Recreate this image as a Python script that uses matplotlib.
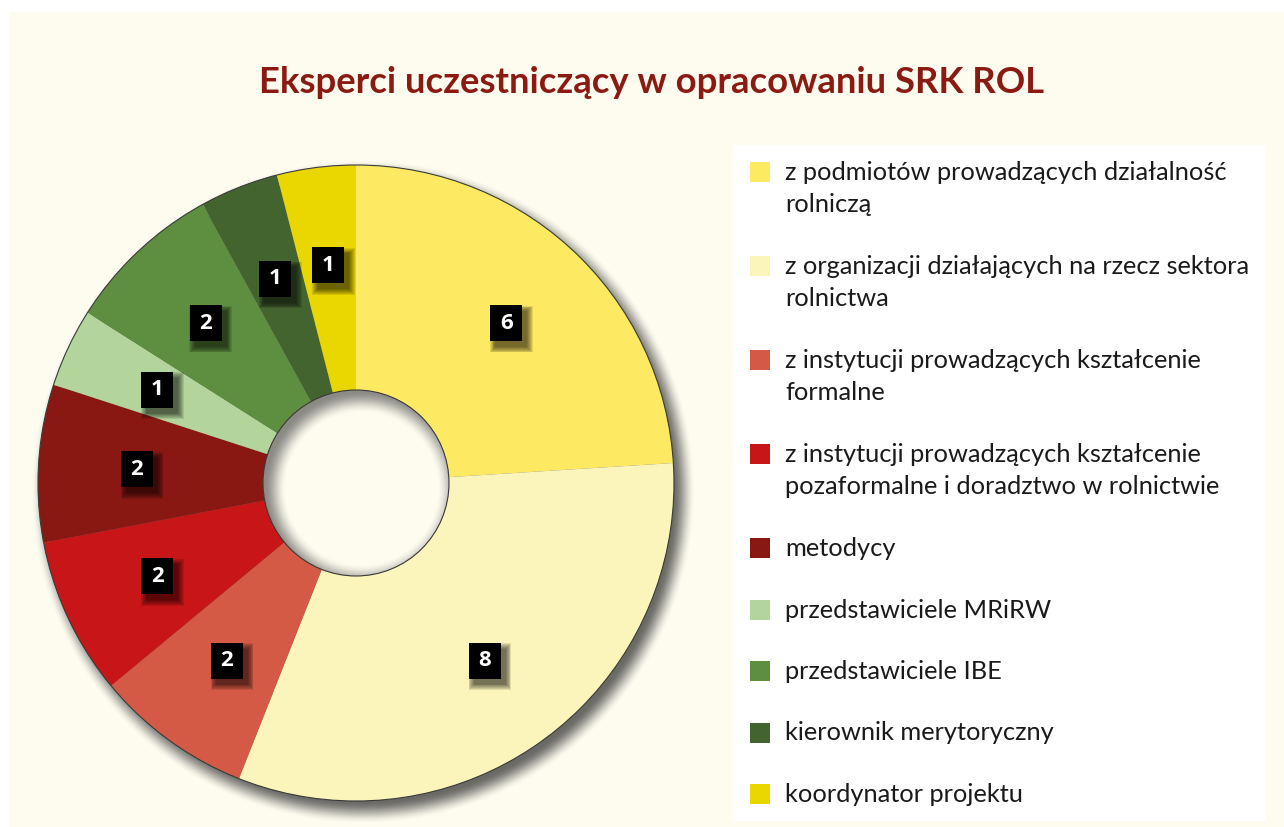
import numpy as np
import matplotlib.pyplot as plt
from matplotlib.patches import Rectangle, Circle

W, H = 1284, 827

title = 'Eksperci uczestniczący w opracowaniu SRK ROL'
labels = [
    'z podmiotów prowadzących działalność\nrolniczą',
    'z organizacji działających na rzecz sektora\nrolnictwa',
    'z instytucji prowadzących kształcenie\nformalne',
    'z instytucji prowadzących kształcenie\npozaformalne i doradztwo w rolnictwie',
    'metodycy',
    'przedstawiciele MRiRW',
    'przedstawiciele IBE',
    'kierownik merytoryczny',
    'koordynator projektu',
]
counts = [6, 8, 2, 2, 2, 1, 2, 1, 1]
colors = ['#FDE962', '#FCF5BB', '#D45A45', '#C81517', '#891812',
          '#B3D59B', '#5E8E3F', '#43632F', '#EAD600']

cream = '#FEFCEF'
font = 'Lato'

fig = plt.figure(figsize=(W / 100, H / 100), dpi=100)
fig.patch.set_facecolor('white')

# background layer in pixel coordinates
bg = fig.add_axes([0, 0, 1, 1])
bg.set_xlim(0, W)
bg.set_ylim(H, 0)
bg.axis('off')
bg.add_patch(Rectangle((9, 12), W - 9, H - 12, facecolor=cream, edgecolor='none'))
bg.text(652, 93, title, ha='center', va='baseline', fontsize=26.3, fontweight='bold',
        color='#8B1A13', family=font)

# legend
bg.add_patch(Rectangle((733, 145), 533, 676, facecolor='white', edgecolor='none'))
y = 172
for lab, col in zip(labels, colors):
    bg.add_patch(Rectangle((750, y - 10), 20, 20, facecolor=col, edgecolor='none'))
    for j, line in enumerate(lab.split('\n')):
        bg.text(785, y + 8 + j * 32.5, line, ha='left', va='baseline', fontsize=18.3,
                color='#1a1a1a', family=font)
    y += 61.5 + 32.5 * lab.count('\n')

# donut
cx, cy, R = 356, 483, 318
rh = 93 / R
ax = fig.add_axes([0, 0, 1, 1])
ax.patch.set_alpha(0)

wedges, _ = ax.pie(counts, colors=colors, startangle=90, counterclock=False, radius=1,
                   wedgeprops=dict(width=1 - rh, linewidth=0))
for w in wedges:
    w.set_zorder(2)

# drop shadow of the ring
n = 900
xs = np.linspace(-1.15, 1.15, n)
X, Y = np.meshgrid(xs, xs)
d = np.hypot(X - 0.022, Y + 0.028)
a = np.clip((1.045 - d) / 0.07, 0, 1)
a = a * a * (3 - 2 * a) * 0.75
shadow = np.zeros((n, n, 4))
shadow[..., :3] = 0.22
shadow[..., 3] = a
ax.imshow(shadow, extent=(-1.15, 1.15, -1.15, 1.15), origin='lower', zorder=0,
          interpolation='bilinear')

# hole with inner shadow
ax.add_patch(Circle((0, 0), rh, facecolor=cream, edgecolor='none', zorder=1))
d2 = np.hypot(X - 0.018, Y + 0.018)
s = np.clip((d2 - (rh - 0.055)) / 0.07, 0, 1)
s = s * s * (3 - 2 * s) * 0.65
inner = np.zeros((n, n, 4))
inner[..., :3] = 0.3
inner[..., 3] = s
hole = Circle((0, 0), rh, transform=ax.transData, facecolor='none')
im = ax.imshow(inner, extent=(-1.15, 1.15, -1.15, 1.15), origin='lower', zorder=3,
               interpolation='bilinear')
im.set_clip_path(hole)

ax.add_patch(Circle((0, 0), 1, facecolor='none', edgecolor='#3a3a3a', linewidth=0.8, zorder=4))
ax.add_patch(Circle((0, 0), rh, facecolor='none', edgecolor='#3a3a3a', linewidth=0.8, zorder=4))

# value labels in black boxes
bw, bh = 32 / R, 36 / R
for w, v in zip(wedges, counts):
    mid = np.deg2rad((w.theta1 + w.theta2) / 2)
    x, y = 0.69 * np.cos(mid), 0.69 * np.sin(mid)
    for k in range(7):
        g = k * 0.9 / R
        ax.add_patch(Rectangle((x - bw / 2 + 5 / R - g, y - bh / 2 - 6 / R - g),
                               bw + 2 * g, bh + 2 * g, facecolor='black', alpha=0.1,
                               edgecolor='none', zorder=5))
    ax.add_patch(Rectangle((x - bw / 2, y - bh / 2), bw, bh, facecolor='black',
                           edgecolor='none', zorder=6))
    ax.text(x, y, str(v), ha='center', va='center', color='white', fontsize=16,
            fontweight='bold', family='Open Sans', zorder=7)

ax.set_xlim(-cx / R, (W - cx) / R)
ax.set_ylim(-(H - cy) / R, cy / R)
ax.set_aspect('auto')
ax.axis('off')

fig.savefig('out.png', dpi=100, facecolor=fig.get_facecolor())
